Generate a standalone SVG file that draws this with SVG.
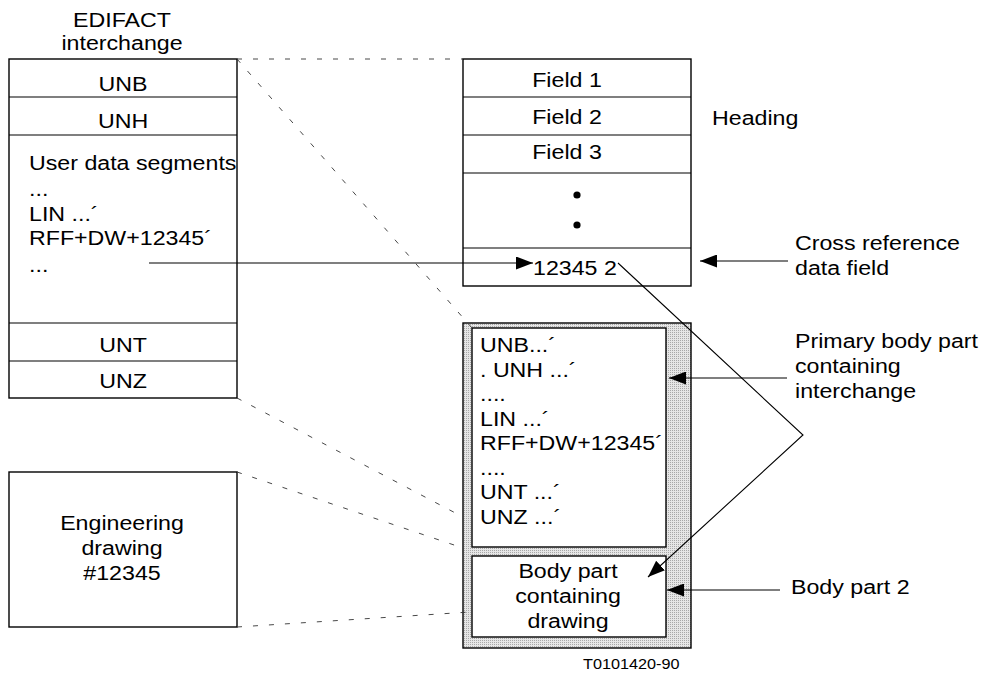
<svg xmlns="http://www.w3.org/2000/svg" width="982" height="675" viewBox="0 0 982 675">
<style>
  text { font-family: "Liberation Sans", Arial, Helvetica, sans-serif; font-size: 20px; fill: #000; }
  .m { text-anchor: middle; }
  .small { font-size: 14.5px; }
  .box { fill: #fff; stroke: #000; stroke-width: 1.4; }
  .sep { stroke: #000; stroke-width: 1.2; }
  .dash { fill: none; stroke: #333; stroke-width: 0.9; stroke-dasharray: 5 11; }
  .conn { fill: none; stroke: #000; stroke-width: 1.1; }
</style>
<defs>
  <pattern id="stip" width="2" height="2" patternUnits="userSpaceOnUse">
    <rect width="2" height="2" fill="#e6e6e6"/>
    <rect width="1" height="1" fill="#a8a8a8"/>
  </pattern>
  <marker id="ah" markerUnits="userSpaceOnUse" markerWidth="17" markerHeight="13" refX="17" refY="6.5" orient="auto">
    <path d="M0,0 L17,6.5 L0,13 z" fill="#000"/>
  </marker>
</defs>

<g id="edifact">
  <text class="m" transform="translate(122,27) scale(1.16,1)">EDIFACT</text>
  <text class="m" transform="translate(122,50) scale(1.16,1)">interchange</text>
  <rect class="box" x="9" y="59" width="228" height="339"/>
  <line class="sep" x1="9" y1="97" x2="237" y2="97"/>
  <line class="sep" x1="9" y1="135" x2="237" y2="135"/>
  <line class="sep" x1="9" y1="323" x2="237" y2="323"/>
  <line class="sep" x1="9" y1="361" x2="237" y2="361"/>
  <text class="m" transform="translate(123,91) scale(1.16,1)">UNB</text>
  <text class="m" transform="translate(123,128) scale(1.16,1)">UNH</text>
  <text transform="translate(29,170) scale(1.16,1)">User data segments</text>
  <text transform="translate(29,196) scale(1.16,1)">...</text>
  <text transform="translate(29,221) scale(1.16,1)">LIN ...´</text>
  <text transform="translate(29,245) scale(1.16,1)">RFF+DW+12345´</text>
  <text transform="translate(29,272) scale(1.16,1)">...</text>
  <text class="m" transform="translate(123,352) scale(1.16,1)">UNT</text>
  <text class="m" transform="translate(123,388) scale(1.16,1)">UNZ</text>
</g>

<g id="heading">
  <rect class="box" x="463" y="59" width="228" height="227"/>
  <line class="sep" x1="463" y1="97" x2="691" y2="97"/>
  <line class="sep" x1="463" y1="135" x2="691" y2="135"/>
  <line class="sep" x1="463" y1="173" x2="691" y2="173"/>
  <line class="sep" x1="463" y1="248" x2="691" y2="248"/>
  <text class="m" transform="translate(567,87) scale(1.16,1)">Field 1</text>
  <text class="m" transform="translate(567,124) scale(1.16,1)">Field 2</text>
  <text class="m" transform="translate(567,159) scale(1.16,1)">Field 3</text>
  <circle cx="577" cy="195" r="3.6" fill="#000"/>
  <circle cx="577" cy="225" r="3.6" fill="#000"/>
  <text transform="translate(533,275) scale(1.16,1)">12345 2</text>
</g>

<g id="container">
  <rect x="463" y="323" width="228" height="325" fill="url(#stip)" stroke="#000" stroke-width="1.4"/>
</g>

<g id="primary">
  <rect class="box" x="472" y="328" width="194" height="219" stroke-width="1.8"/>
  <text transform="translate(480,352) scale(1.16,1)">UNB...´</text>
  <text transform="translate(480,377) scale(1.16,1)">. UNH ...´</text>
  <text transform="translate(480,401) scale(1.16,1)">....</text>
  <text transform="translate(480,426) scale(1.16,1)">LIN ...´</text>
  <text transform="translate(480,450) scale(1.16,1)">RFF+DW+12345´</text>
  <text transform="translate(480,475) scale(1.16,1)">....</text>
  <text transform="translate(480,499) scale(1.16,1)">UNT ...´</text>
  <text transform="translate(480,524) scale(1.16,1)">UNZ ...´</text>
</g>

<g id="bodypart">
  <rect class="box" x="472" y="556" width="194" height="81" stroke-width="1.8"/>
  <text class="m" transform="translate(568,578) scale(1.16,1)">Body part</text>
  <text class="m" transform="translate(568,603) scale(1.16,1)">containing</text>
  <text class="m" transform="translate(568,628) scale(1.16,1)">drawing</text>
</g>

<g id="engineering">
  <rect class="box" x="9" y="472" width="228" height="155"/>
  <text class="m" transform="translate(122,530) scale(1.16,1)">Engineering</text>
  <text class="m" transform="translate(122,555) scale(1.16,1)">drawing</text>
  <text class="m" transform="translate(122,580) scale(1.16,1)">#12345</text>
</g>

<g id="labels">
  <text transform="translate(712,125) scale(1.16,1)">Heading</text>
  <text transform="translate(795,250) scale(1.16,1)">Cross reference</text>
  <text transform="translate(795,275) scale(1.16,1)">data field</text>
  <text transform="translate(795,348) scale(1.16,1)">Primary body part</text>
  <text transform="translate(795,373) scale(1.16,1)">containing</text>
  <text transform="translate(795,398) scale(1.16,1)">interchange</text>
  <text transform="translate(791,594) scale(1.16,1)">Body part 2</text>
  <text class="small" transform="translate(583,669) scale(1.12,1)">T0101420-90</text>
</g>

<g id="connectors">
  <line class="dash" x1="237" y1="59" x2="463" y2="59"/>
  <line class="dash" x1="237" y1="59" x2="472" y2="328"/>
  <line class="dash" x1="237" y1="398" x2="463" y2="517"/>
  <line class="dash" x1="237" y1="472" x2="463" y2="548"/>
  <line class="dash" x1="237" y1="627" x2="470" y2="612"/>
  <line class="conn" x1="149" y1="263" x2="533" y2="263" marker-end="url(#ah)"/>
  <line class="conn" x1="788" y1="261" x2="700" y2="261" marker-end="url(#ah)"/>
  <line class="conn" x1="787" y1="378" x2="669" y2="378" marker-end="url(#ah)"/>
  <line class="conn" x1="780" y1="590" x2="667" y2="590" marker-end="url(#ah)"/>
  <polyline class="conn" points="618,263 803,435 648,577" marker-end="url(#ah)"/>
</g>
</svg>
